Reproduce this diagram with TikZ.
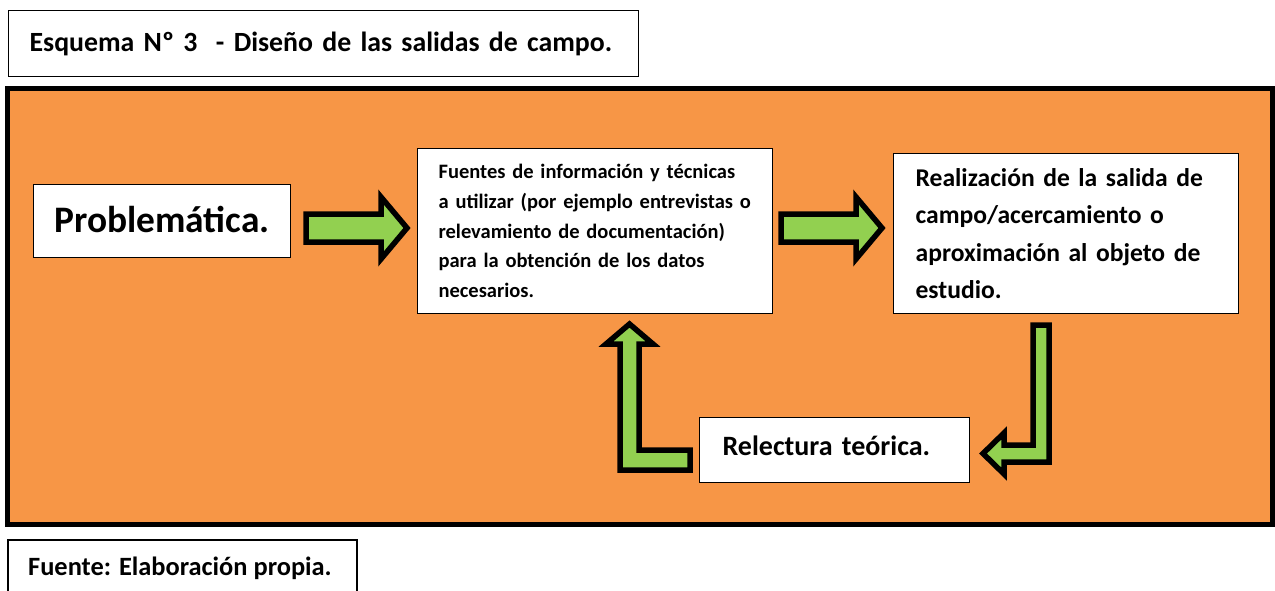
\documentclass[tikz,border=0pt]{standalone}
\usepackage{fontspec}
\setmainfont{Carlito}
\definecolor{bgorange}{HTML}{F79646}
\definecolor{arrowgreen}{HTML}{92D050}
\begin{document}
\begin{tikzpicture}[x=1pt,y=-1pt,
  plainbox/.style={draw=black, line width=1.2pt, fill=white, inner ysep=0pt, anchor=north west, font=\bfseries},
  greenarrow/.style={draw=black, fill=arrowgreen, line width=5.5pt, line join=miter, miter limit=10},
]
\useasboundingbox (0,0) rectangle (1275,590);
% title
\node[plainbox, minimum width=630pt, minimum height=66pt, text width=588pt, inner xsep=21pt, align=left,
  font=\bfseries\fontsize{27.8}{32}\selectfont] (title) at (8,10) {Esquema Nº 3\ \ - Diseño de las salidas de campo.};
% orange frame
\draw[draw=black, fill=bgorange, line width=5pt] (7.5,88.5) rectangle (1272.5,524.5);
% footer
\draw[draw=black, line width=1.2pt, fill=white] (8,540) rectangle (357,600);
\node[anchor=base west, font=\bfseries\fontsize{26.4}{30}\selectfont, inner sep=0pt] (fuente) at (28,575) {Fuente: Elaboración propia.};
% boxes
\node[plainbox, minimum width=257pt, minimum height=73pt, text width=257pt, inner xsep=0pt, align=center, text depth=4pt,
  font=\bfseries\fontsize{37.4}{42}\selectfont] (prob) at (33,184) {Problemática.};
\node[plainbox, minimum width=355pt, minimum height=165pt, text width=313pt, inner xsep=21pt, align=left,
  font=\bfseries\fontsize{20.5}{29.75}\selectfont] (fuentes) at (417,148)
  {Fuentes de información y técnicas\\ a utilizar (por ejemplo entrevistas o\\ relevamiento de documentación)\\ para la obtención de los datos\\ necesarios.};
\node[plainbox, minimum width=345pt, minimum height=160pt, text width=301pt, inner xsep=22pt, align=left,
  font=\bfseries\fontsize{25.6}{37.3}\selectfont] (real) at (893,153)
  {Realización de la salida de\\ campo/acercamiento o\\ aproximación al objeto de\\ estudio.};
\node[plainbox, minimum width=270pt, minimum height=65pt, text width=224pt, inner xsep=23pt, align=left, text depth=8pt,
  font=\bfseries\fontsize{28}{32}\selectfont] (relec) at (699,417) {Relectura teórica.};
% arrows
\draw[greenarrow] (306,214) -- (381,214) -- (381,197) -- (407,228) -- (381,259) -- (381,242) -- (306,242) -- cycle;
\draw[greenarrow] (781,214) -- (856,214) -- (856,197) -- (882,228) -- (856,259) -- (856,242) -- (781,242) -- cycle;
\draw[greenarrow] (1033,325) -- (1049,325) -- (1049,462) -- (1004,462) -- (1004,474) -- (983,453.5) -- (1004,433) -- (1004,445) -- (1033,445) -- cycle;
\draw[greenarrow] (629.5,324) -- (653,344) -- (639,344) -- (639,450) -- (690,450) -- (690,470) -- (620,470) -- (620,344) -- (606,344) -- cycle;
\end{tikzpicture}
\end{document}
